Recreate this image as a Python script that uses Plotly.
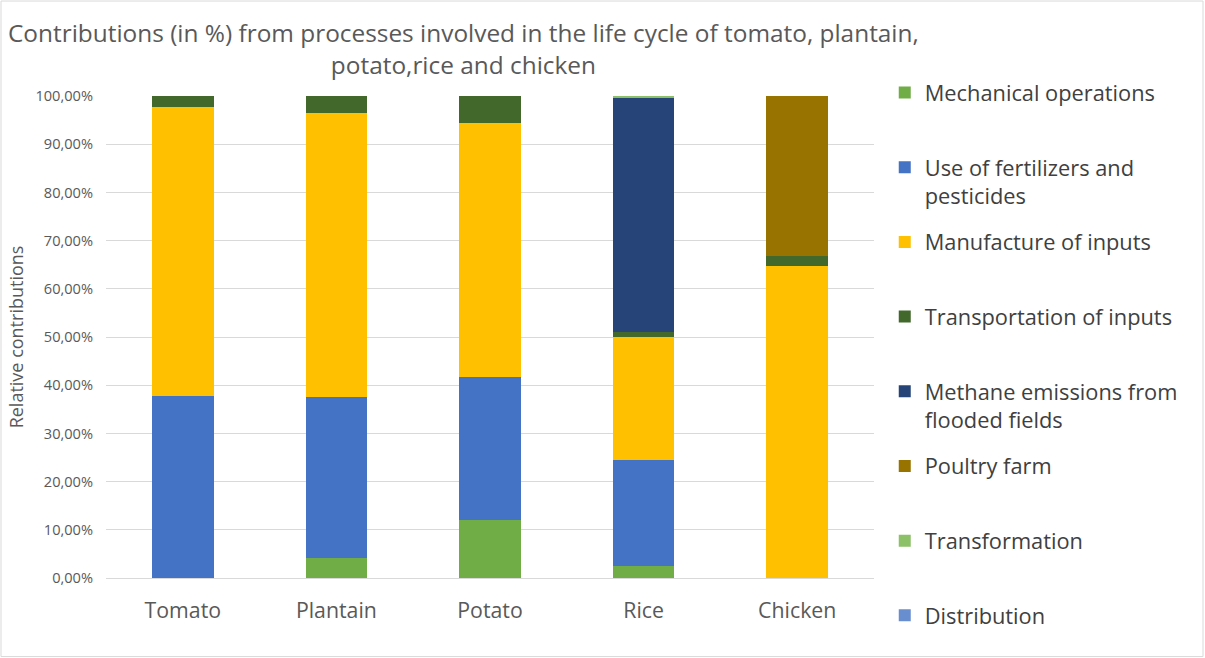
import plotly.graph_objects as go

# Crops and process contributions (in % of each crop's life-cycle impact)
crops = ["Tomato", "Plantain", "Potato", "Rice", "Chicken"]

mechanical_operations = [0.0, 4.1, 12.0, 2.4, 0.0]
fertilizers_pesticides = [37.7, 33.4, 29.8, 22.0, 0.0]
manufacture_of_inputs = [60.0, 58.9, 52.7, 25.6, 64.8]
transportation_of_inputs = [2.3, 3.6, 5.5, 1.0, 2.0]
methane_emissions = [0.0, 0.0, 0.0, 48.7, 0.0]
poultry_farm = [0.0, 0.0, 0.0, 0.0, 33.2]
transformation = [0.0, 0.0, 0.0, 0.3, 0.0]
distribution = [0.0, 0.0, 0.0, 0.0, 0.0]

series = [
    ("Mechanical operations", mechanical_operations, "#70AD47"),
    ("Use of fertilizers and<br>pesticides", fertilizers_pesticides, "#4472C4"),
    ("Manufacture of inputs", manufacture_of_inputs, "#FFC000"),
    ("Transportation of inputs", transportation_of_inputs, "#43682B"),
    ("Methane emissions from<br>flooded fields", methane_emissions, "#264478"),
    ("Poultry farm", poultry_farm, "#997300"),
    ("Transformation", transformation, "#8CC168"),
    ("Distribution", distribution, "#698ED0"),
]

y_ticks = [0, 10, 20, 30, 40, 50, 60, 70, 80, 90, 100]
y_tick_labels = ["0,00%", "10,00%", "20,00%", "30,00%", "40,00%", "50,00%",
                 "60,00%", "70,00%", "80,00%", "90,00%", "100,00%"]

FONT = "Open Sans"
GREY = "#595959"

fig = go.Figure()
last = len(series) - 1
for i, (name, vals, color) in enumerate(series):
    # pad single-line names (except the last) so legend slots share one height
    label = name if ("<br>" in name or i == last) else name + "<br> "
    fig.add_trace(go.Bar(
        x=crops, y=vals, name=label, marker_color=color,
        marker_line_width=0, legendgroup=f"g{i}",
    ))

fig.update_layout(
    barmode="stack",
    bargap=0.6,
    width=1205, height=658,
    margin=dict(l=106, r=331, t=96, b=80),
    paper_bgcolor="white", plot_bgcolor="white",
    font=dict(family=FONT, color=GREY),
    annotations=[dict(
        text="Contributions (in %) from processes involved in the life cycle of tomato, plantain,<br>potato,rice and chicken",
        xref="paper", yref="paper", x=0.466, xanchor="center",
        y=1.028, yanchor="bottom", showarrow=False,
        font=dict(size=24.4, color=GREY, family=FONT),
    )],
    legend=dict(
        x=1.014, xanchor="left", y=1.05, yanchor="top",
        traceorder="grouped", tracegroupgap=15, valign="top",
        font=dict(size=21.8, color="#404040", family=FONT),
        itemwidth=30, maxheight=640, bgcolor="rgba(0,0,0,0)",
    ),
    xaxis=dict(
        showline=False, showgrid=False,
        tickfont=dict(size=21.3, color=GREY),
        ticklabelstandoff=18,
    ),
    yaxis=dict(
        range=[0, 100], tickvals=y_ticks, ticktext=y_tick_labels,
        showgrid=True, gridcolor="#D9D9D9", gridwidth=1,
        zeroline=True, zerolinecolor="#D9D9D9", zerolinewidth=1,
        tickfont=dict(size=14.6, color=GREY),
        ticklabelstandoff=12,
        title=dict(text="Relative contributions", font=dict(size=18, color=GREY), standoff=7),
    ),
    shapes=[dict(
        type="rect", xref="paper", yref="paper",
        x0=-0.1367, x1=1.4284, y0=-0.163, y1=1.197,
        line=dict(color="#D9D9D9", width=1), layer="below",
    )],
)

fig.write_html("out.html")
